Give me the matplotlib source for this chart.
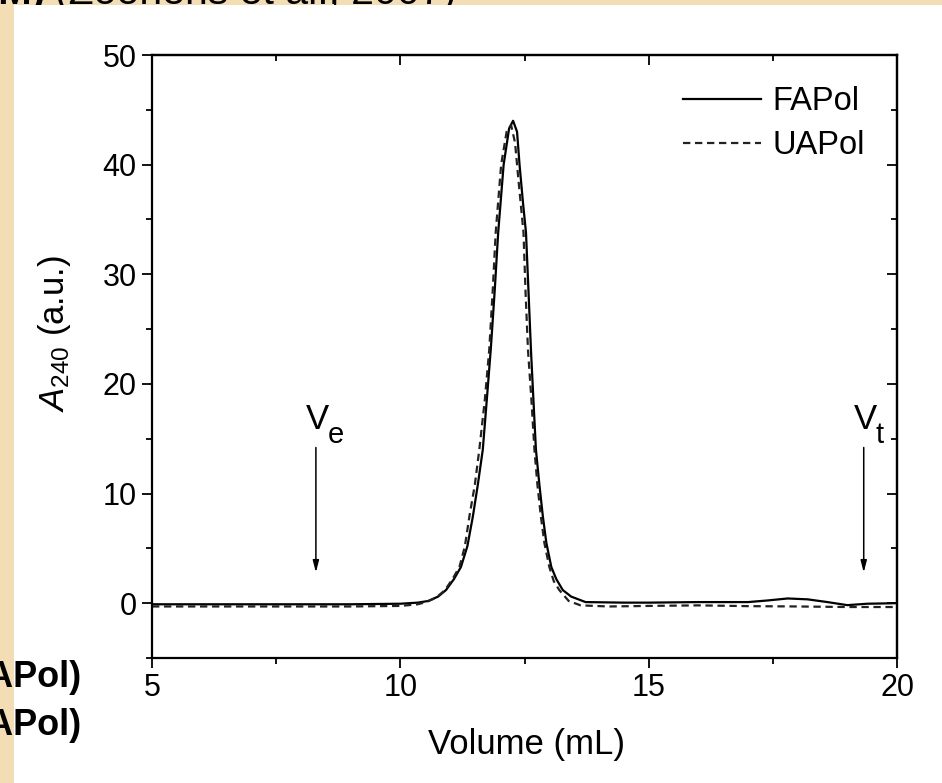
import matplotlib.pyplot as plt
from matplotlib.patches import Rectangle
from matplotlib.ticker import MultipleLocator

plt.rcParams['font.family'] = ['Liberation Sans', 'DejaVu Sans']
plt.rcParams['mathtext.fontset'] = 'custom'
plt.rcParams['mathtext.rm'] = 'Liberation Sans'
plt.rcParams['mathtext.it'] = 'Liberation Sans:italic'

# FAPol trace (solid)
fapol_x = [5.0, 6.0, 7.0, 8.0, 9.0, 10.0, 10.35, 10.56, 10.76, 10.92, 11.08, 11.22,
           11.35, 11.46, 11.56, 11.66, 11.74, 11.82, 11.90, 11.97, 12.08, 12.19, 12.27,
           12.35, 12.40, 12.47, 12.53, 12.58, 12.63, 12.68, 12.73, 12.80, 12.87, 12.94,
           13.04, 13.14, 13.27, 13.44, 13.73, 14.5, 15.0, 16.0, 16.5, 17.0, 17.4, 17.8,
           18.2, 18.6, 19.0, 19.4, 20.0]
fapol_y = [-0.1, -0.1, -0.1, -0.1, -0.1, -0.05, 0.05, 0.2, 0.6, 1.2, 2.2, 3.3,
           5.2, 7.9, 10.8, 14.0, 18.5, 23.1, 28.5, 33.8, 40.0, 43.3, 44.0,
           43.0, 40.0, 36.5, 33.8, 28.5, 23.1, 18.5, 14.0, 10.8, 7.9, 5.5,
           3.3, 2.2, 1.2, 0.6, 0.1, 0.05, 0.05, 0.1, 0.1, 0.1, 0.25, 0.43,
           0.35, 0.1, -0.18, -0.05, 0.0]

# UAPol trace (dashed)
uapol_x = [5.0, 6.0, 7.0, 8.0, 9.0, 10.0, 10.35, 10.52, 10.72, 10.90, 11.05, 11.19,
           11.30, 11.39, 11.50, 11.59, 11.70, 11.79, 11.86, 11.92, 12.03, 12.14, 12.23,
           12.31, 12.37, 12.48, 12.52, 12.57, 12.64, 12.70, 12.76, 12.83, 12.90, 13.00,
           13.09, 13.20, 13.39, 13.63, 14.2, 15.0, 16.0, 17.0, 18.0, 19.0, 20.0]
uapol_y = [-0.3, -0.3, -0.3, -0.3, -0.3, -0.25, -0.1, 0.1, 0.5, 1.2, 2.2, 3.3,
           5.2, 7.9, 10.8, 14.0, 18.5, 23.1, 28.5, 33.8, 40.0, 43.0, 43.6,
           42.0, 39.0, 33.8, 28.5, 23.1, 18.5, 14.0, 10.8, 7.9, 5.5, 3.3,
           2.0, 1.2, 0.2, -0.2, -0.3, -0.25, -0.2, -0.27, -0.3, -0.35, -0.35]

series_names = ['FAPol', 'UAPol']
marker_labels = ['e', 't']
marker_x = [8.3, 19.33]
marker_top = 14.2
marker_bottom = 2.8

fig = plt.figure(figsize=(9.42, 7.83), dpi=100, facecolor='#F3DDB5')
# white picture panel sits over the slide text
fig.patches.append(Rectangle((14 / 942, 0), 1, 1 - 5 / 783, transform=fig.transFigure,
                             facecolor='white', edgecolor='none', zorder=-10))

# slide text cut off at the edges
fig.text(45 / 942, 1 - 4 / 783, 'AM)', fontsize=29, fontweight='bold', ha='right',
         va='baseline', zorder=-20)
fig.text(55 / 942, 1 - 4 / 783, '(Zoonens et al., 2007)', fontsize=29.5, ha='left',
         va='baseline', zorder=-20)
fig.text(81 / 942, 1 - 687 / 783, '(FAPol)', fontsize=26, fontweight='bold', ha='right', va='baseline')
fig.text(81 / 942, 1 - 735 / 783, '(UAPol)', fontsize=26, fontweight='bold', ha='right', va='baseline')

ax = fig.add_axes([152 / 942, 125 / 783, 745 / 942, 603 / 783])
ax.plot(fapol_x, fapol_y, color='black', lw=1.6, label=series_names[0])
ax.plot(uapol_x, uapol_y, color='#222222', lw=1.6, linestyle=(0, (3.3, 2.1)), label=series_names[1])

ax.set_xlim(5, 20)
ax.set_ylim(-5, 50)
ax.xaxis.set_major_locator(MultipleLocator(5))
ax.xaxis.set_minor_locator(MultipleLocator(2.5))
ax.yaxis.set_major_locator(MultipleLocator(10))
ax.yaxis.set_minor_locator(MultipleLocator(5))
ax.tick_params(which='both', direction='out', width=1.3, labelsize=22, top=False, right=False)
ax.tick_params(which='major', length=7, pad=4)
ax.tick_params(which='minor', length=4)
for s in ax.spines.values():
    s.set_linewidth(1.6)

for side in ['top', 'right']:
    if side == 'top':
        sec = ax.secondary_xaxis('top')
        sec.xaxis.set_major_locator(MultipleLocator(5))
        sec.xaxis.set_minor_locator(MultipleLocator(2.5))
    else:
        sec = ax.secondary_yaxis('right')
        sec.yaxis.set_major_locator(MultipleLocator(10))
        sec.yaxis.set_minor_locator(MultipleLocator(5))
    sec.tick_params(which='both', direction='in', width=1.3, labelleft=False, labelright=False,
                    labeltop=False, labelbottom=False)
    sec.tick_params(which='major', length=7)
    sec.tick_params(which='minor', length=4)
    sec.spines[side].set_linewidth(1.6)

ax.set_xlabel('Volume (mL)', fontsize=25)
ax.xaxis.set_label_coords(0.503, -0.116)
ax.set_ylabel(r'$\mathit{A}_{\mathregular{240}}$ (a.u.)', fontsize=25)
ax.yaxis.set_label_coords(-0.106, 0.538)

for lab, xv in zip(marker_labels, marker_x):
    ax.annotate('', xy=(xv, marker_bottom), xytext=(xv, marker_top),
                arrowprops=dict(arrowstyle='-|>,head_width=0.18,head_length=0.7',
                                color='black', lw=1.1, shrinkA=0, shrinkB=0))
    ax.text(xv - 0.2, 15.9, 'V', fontsize=25, ha='left', va='baseline')
    ax.text(xv + 0.24, 14.6, lab, fontsize=21, ha='left', va='baseline')

ax.legend(loc='upper right', bbox_to_anchor=(0.957, 0.948), frameon=False, fontsize=23.5,
          handlelength=2.4, handletextpad=0.35, labelspacing=0.4, borderaxespad=0, borderpad=0)

fig.savefig('out.png', dpi=100, facecolor=fig.get_facecolor())
